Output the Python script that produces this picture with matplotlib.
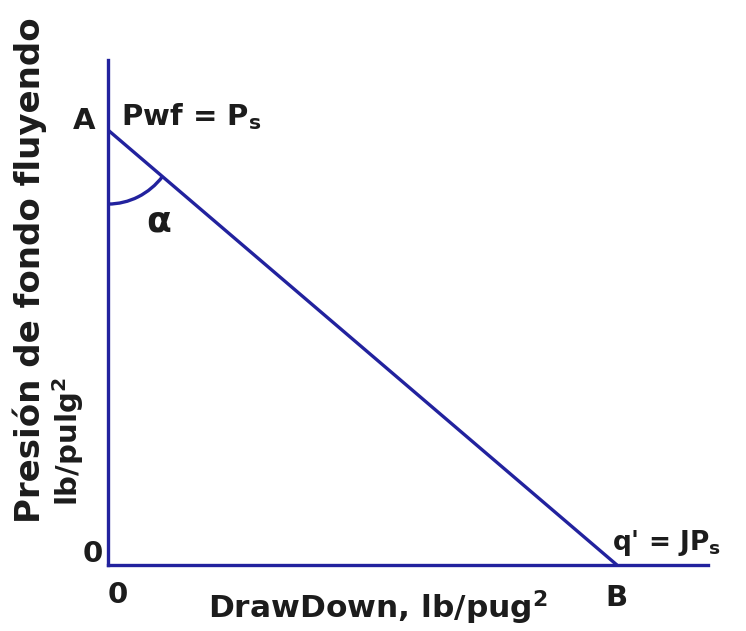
import matplotlib
matplotlib.use("Agg")
import matplotlib.pyplot as plt
from matplotlib.patches import Arc
import numpy as np

# IPR straight line: pressure Pwf vs drawdown (normalised units)
PS = 1.0          # Pwf at q = 0 (point A)
Q_MAX = 1.0       # q' = J*Ps (point B)
X_MAX = 1.179
Y_MAX = 1.161

LINE_COLOR = "#22229e"
TEXT_COLOR = "#1c1c1c"
FONT = "DejaVu Sans"

fig = plt.figure(figsize=(7.46, 6.31), dpi=100)
ax = fig.add_axes([0.1448, 0.1046, 0.8043, 0.8003])

ax.plot([0, Q_MAX], [PS, 0], color=LINE_COLOR, lw=2.4, solid_capstyle="butt")
ax.set_xlim(0, X_MAX)
ax.set_ylim(0, Y_MAX)

for side in ("top", "right"):
    ax.spines[side].set_visible(False)
for side in ("left", "bottom"):
    ax.spines[side].set_color(LINE_COLOR)
    ax.spines[side].set_linewidth(2.4)
ax.set_xticks([])
ax.set_yticks([])

# angle alpha between the pressure axis and the IPR line
line_ang = np.degrees(np.arctan2(-PS, Q_MAX)) % 360
ax.add_patch(Arc((0, PS), 2 * 70 / 600 * X_MAX, 2 * 74 / 505 * Y_MAX,
                 theta1=270, theta2=line_ang, color=LINE_COLOR, lw=2.4))

txt = dict(color=TEXT_COLOR, fontfamily=FONT, fontweight="bold", fontsize=21)
ax.text(0.10, 0.79, "α", ha="center", va="center", color=TEXT_COLOR,
        fontfamily=FONT, fontweight="bold", fontsize=26)
ax.text(-0.025, PS + 0.02, "A", ha="right", va="center", **txt)
ax.text(0.025, PS + 0.03, "Pwf = P$_\\mathregular{s}$", ha="left", va="center", **txt)
ax.text(Q_MAX, -0.075, "B", ha="center", va="center", **txt)
ax.text(Q_MAX - 0.01, 0.05, "q' = JP$_\\mathregular{s}$", ha="left", va="center",
        color=TEXT_COLOR, fontfamily=FONT, fontweight="bold", fontsize=19)
ax.text(-0.01, 0.025, "0", ha="right", va="center", **txt)
ax.text(0.02, -0.07, "0", ha="center", va="center", **txt)

lab = dict(color=TEXT_COLOR, fontfamily=FONT, fontweight="bold")
ax.text(0.45, -0.085, "DrawDown, lb/pug$^\\mathregular{2}$", ha="center", va="center",
        transform=ax.transAxes, fontsize=22.5, **lab)
fig.text(30 / 746, 1 - 270 / 631, "Presión de fondo fluyendo", rotation=90,
         ha="center", va="center", fontsize=24.5, **lab)
fig.text(68 / 746, 1 - 442 / 631, "lb/pulg$^\\mathregular{2}$", rotation=90,
         ha="center", va="center", fontsize=21, **lab)

fig.savefig("out.png", dpi=100)
